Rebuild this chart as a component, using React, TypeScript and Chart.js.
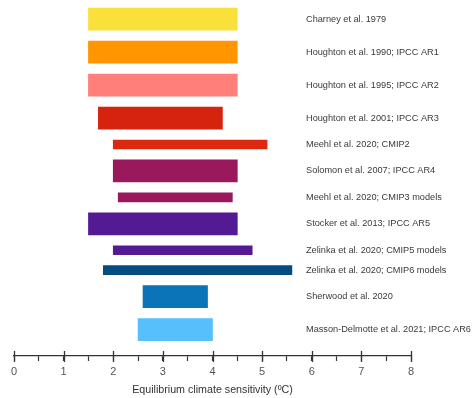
import React, { useEffect, useRef } from "react";
import { Chart, registerables } from "chart.js";

Chart.register(...registerables);

const studies = [
  "Charney et al. 1979",
  "Houghton et al. 1990; IPCC AR1",
  "Houghton et al. 1995; IPCC AR2",
  "Houghton et al. 2001; IPCC AR3",
  "Meehl et al. 2020; CMIP2",
  "Solomon et al. 2007; IPCC AR4",
  "Meehl et al. 2020; CMIP3 models",
  "Stocker et al. 2013; IPCC AR5",
  "Zelinka et al. 2020; CMIP5 models",
  "Zelinka et al. 2020; CMIP6 models",
  "Sherwood et al. 2020",
  "Masson-Delmotte et al. 2021; IPCC AR6",
];
const lows = [1.5, 1.5, 1.5, 1.7, 2.0, 2.0, 2.1, 1.5, 2.0, 1.8, 2.6, 2.5];
const highs = [4.5, 4.5, 4.5, 4.2, 5.1, 4.5, 4.4, 4.5, 4.8, 5.6, 3.9, 4.0];
const modelEnsemble = [false, false, false, false, true, false, true, false, true, true, false, false];
const barColors = [
  "#F9E03A",
  "#FF9500",
  "#FF7F7A",
  "#D6230E",
  "#DC290F",
  "#9A195D",
  "#9A195D",
  "#541A93",
  "#541A93",
  "#054C80",
  "#0A74B8",
  "#58BFFD",
];
const xTickMin = 0;
const xTickMax = 8;
const axisTitle = "Equilibrium climate sensitivity (ºC)";

export default function App() {
  const ref = useRef<HTMLCanvasElement | null>(null);

  useEffect(() => {
    if (!ref.current) return;
    const THICK = 22;
    const THIN = 9;
    const GAP = 10.8;
    const TOP = 8;
    const AREA_H = 354;

    // stacked row layout: thin rows for model ensembles
    const centers: number[] = [];
    let prevC = 0;
    let prevH = 0;
    studies.forEach((_, i) => {
      const h = modelEnsemble[i] ? THIN : THICK;
      const c = i === 0 ? TOP + h / 2 : prevC + prevH / 2 + GAP + h / 2;
      centers.push(c);
      prevC = c;
      prevH = h;
    });

    const makeSet = (thin: boolean) => {
      const idx = studies.map((_, i) => i).filter((i) => modelEnsemble[i] === thin);
      return {
        label: thin ? "Model ensembles" : "Assessments",
        data: idx.map((i) => ({ x: [lows[i], highs[i]], y: centers[i], label: studies[i] })),
        backgroundColor: idx.map((i) => barColors[i]),
        borderWidth: 0,
        barThickness: thin ? THIN : THICK,
        grouped: false,
      };
    };

    const labelPlugin = {
      id: "rowLabels",
      afterDatasetsDraw(chart: any) {
        const ctx = chart.ctx;
        ctx.save();
        ctx.font = "9.2px 'Liberation Sans', Arial, sans-serif";
        ctx.fillStyle = "#3a3a3a";
        ctx.textAlign = "left";
        ctx.textBaseline = "middle";
        chart.data.datasets.forEach((ds: any, di: number) => {
          const meta = chart.getDatasetMeta(di);
          meta.data.forEach((el: any, j: number) => {
            ctx.fillText(ds.data[j].label, 306, el.y);
          });
        });
        ctx.restore();
      },
    };

    const majorTickPlugin = {
      id: "majorTicksUp",
      afterDraw(chart: any) {
        const xs = chart.scales.x;
        const ctx = chart.ctx;
        const yb = xs.top;
        ctx.save();
        ctx.strokeStyle = "#333";
        ctx.lineWidth = 1.3;
        for (let v = xTickMin; v <= xTickMax; v++) {
          const px = Math.round(xs.getPixelForValue(v)) + 0.5;
          ctx.beginPath();
          ctx.moveTo(px, yb - 5);
          ctx.lineTo(px, yb + 6);
          ctx.stroke();
        }
        ctx.restore();
      },
    };

    const chart = new Chart(ref.current, {
      type: "bar",
      data: { datasets: [makeSet(false), makeSet(true)] as any },
      options: {
        indexAxis: "y",
        animation: false,
        responsive: false,
        layout: { padding: { left: 14, right: 61, top: 0, bottom: 0 } },
        plugins: { legend: { display: false }, tooltip: { enabled: false } },
        scales: {
          y: {
            type: "linear",
            display: false,
            reverse: true,
            offset: false,
            grid: { offset: false },
            min: 0,
            max: AREA_H,
          },
          x: {
            type: "linear",
            min: xTickMin,
            max: xTickMax,
            border: { display: true, color: "#333", width: 1.3 },
            grid: {
              drawOnChartArea: false,
              drawTicks: true,
              tickLength: 5,
              tickColor: "#333",
              tickWidth: 1.2,
            },
            ticks: {
              stepSize: 0.5,
              autoSkip: false,
              maxRotation: 0,
              padding: 4,
              color: "#555",
              font: { family: "'Liberation Sans', Arial, sans-serif", size: 11 },
              callback: (v: any) => (Number.isInteger(Number(v)) ? String(v) : ""),
            },
            title: {
              display: true,
              text: axisTitle,
              color: "#333",
              font: { family: "'Liberation Sans', Arial, sans-serif", size: 10.7 },
              padding: { top: 1, bottom: 2 },
            },
          },
        },
      },
      plugins: [labelPlugin, majorTickPlugin],
    });
    return () => chart.destroy();
  }, []);

  return (
    <div style={{ position: "fixed", left: 0, top: 0, width: 472, height: 398, background: "#fff" }}>
      <canvas ref={ref} width={472} height={398} style={{ width: 472, height: 398 }} />
    </div>
  );
}
